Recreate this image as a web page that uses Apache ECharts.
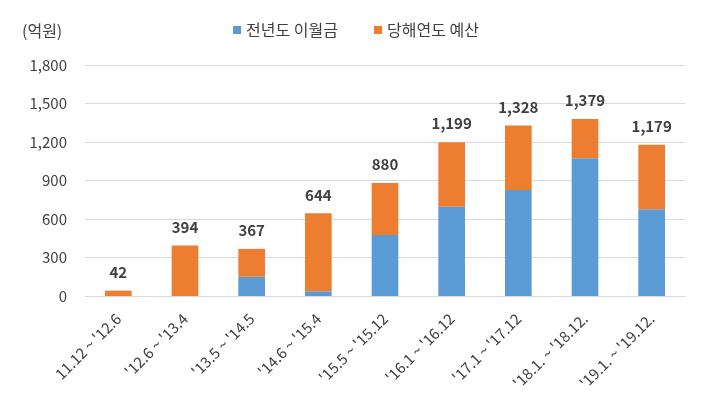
<!DOCTYPE html>
<html>
<head>
<meta charset="utf-8">
<script src="https://cdn.jsdelivr.net/npm/echarts@6/dist/echarts.min.js"></script>
<style>
  html, body { margin: 0; padding: 0; background: #fff; }
  #main { width: 712px; height: 400px; }
</style>
</head>
<body>
<div id="main"></div>
<script>
// 데이터
var categories = ["11.12 ~ '12.6", "'12.6 ~ '13.4", "'13.5 ~ '14.5", "'14.6 ~ '15.4", "'15.5 ~ '15.12",
                  "'16.1 ~ '16.12", "'17.1 ~ '17.12", "'18.1. ~ '18.12.", "'19.1. ~ '19.12."];
var carryOver = [0, 0, 150, 37, 475, 696, 826, 1073, 676];     // 전년도 이월금
var budget    = [42, 394, 217, 607, 405, 503, 502, 306, 503];  // 당해연도 예산
var totals    = [42, 394, 367, 644, 880, 1199, 1328, 1379, 1179];
var yTicks    = [0, 300, 600, 900, 1200, 1500, 1800];

var FONT = 'Noto Sans CJK KR';
var myChart = echarts.init(document.getElementById('main'));

var option = {
    textStyle: { fontFamily: FONT },
    color: ['#5B9BD5', '#ED7D31'],
    legend: {
        top: 17,
        left: 'center',
        itemWidth: 8,
        itemHeight: 8,
        itemGap: 36,
        icon: 'rect',
        textStyle: { fontSize: 16, color: '#404040', fontFamily: FONT }
    },
    graphic: [{
        type: 'text',
        left: 22,
        top: 23,
        style: { text: '(억원)', fontSize: 16, fill: '#404040', fontFamily: FONT }
    }],
    grid: {
        left: 85,
        right: 27,
        top: 65,
        bottom: 104
    },
    xAxis: {
        type: 'category',
        data: categories,
        axisTick: { show: false },
        axisLine: { lineStyle: { color: '#d9d9d9', width: 1 } },
        axisLabel: {
            rotate: 45,
            margin: 20,
            fontSize: 15,
            color: '#404040',
            interval: 0
        }
    },
    yAxis: {
        type: 'value',
        min: yTicks[0],
        max: yTicks[yTicks.length - 1],
        interval: 300,
        axisLine: { show: false },
        axisTick: { show: false },
        splitLine: { lineStyle: { color: '#d9d9d9', width: 1 } },
        axisLabel: {
            fontSize: 15,
            color: '#404040',
            margin: 18,
            formatter: function (v) { return v.toLocaleString('en-US'); }
        }
    },
    series: [
        {
            name: '전년도 이월금',
            type: 'bar',
            stack: 'total',
            barWidth: '40%',
            data: carryOver
        },
        {
            name: '당해연도 예산',
            type: 'bar',
            stack: 'total',
            barWidth: '40%',
            data: budget,
            label: {
                show: true,
                position: 'top',
                distance: 11,
                fontSize: 15,
                fontWeight: 'bold',
                color: '#404040',
                formatter: function (p) { return totals[p.dataIndex].toLocaleString('en-US'); }
            }
        }
    ]
};
myChart.setOption(option);
</script>
</body>
</html>
